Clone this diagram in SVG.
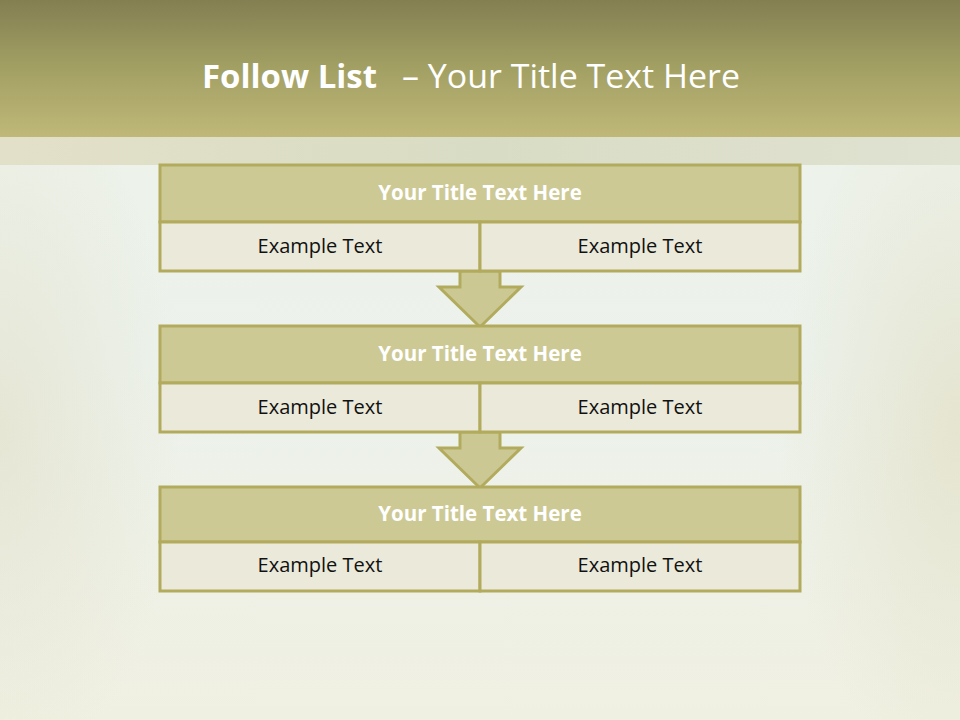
<svg xmlns="http://www.w3.org/2000/svg" width="960" height="720" viewBox="0 0 960 720">
<defs>
<linearGradient id="hdr" x1="0" y1="0" x2="0" y2="1">
<stop offset="0" stop-color="#837f52"/>
<stop offset="0.5" stop-color="#a3a064"/>
<stop offset="1" stop-color="#bfb878"/>
</linearGradient>
<linearGradient id="band" x1="0" y1="0" x2="1" y2="0">
<stop offset="0" stop-color="#e3e0c9"/>
<stop offset="0.5" stop-color="#d9dcc4"/>
<stop offset="1" stop-color="#e0e2d2"/>
</linearGradient>
<linearGradient id="bg" x1="0" y1="0" x2="0" y2="1">
<stop offset="0" stop-color="#eef2e8"/>
<stop offset="0.5" stop-color="#ecf2ec"/>
<stop offset="1" stop-color="#f0f0e2"/>
</linearGradient>
<radialGradient id="edgeL" cx="0" cy="0.5" r="0.6">
<stop offset="0" stop-color="#e4e3cf" stop-opacity="0.8"/>
<stop offset="1" stop-color="#e4e3cf" stop-opacity="0"/>
</radialGradient>
<radialGradient id="edgeR" cx="1" cy="0.5" r="0.6">
<stop offset="0" stop-color="#e3e1c9" stop-opacity="0.8"/>
<stop offset="1" stop-color="#e3e1c9" stop-opacity="0"/>
</radialGradient>
<style>
.ttl{fill:#cdc995;stroke:#b2ab5d;stroke-width:3}
.sub{fill:#ebe9da;stroke:#b2ab5d;stroke-width:3}
.arr{fill:#cbc894;stroke:#b2ab5d;stroke-width:3;stroke-linejoin:miter}
.tt{font-family:"Open Sans","Liberation Sans",sans-serif;font-weight:bold;font-size:20.5px;fill:#ffffff;text-anchor:middle}
.ex{font-family:"Open Sans","Liberation Sans",sans-serif;font-size:20px;fill:#111111;text-anchor:middle}
.hd{font-family:"Open Sans","Liberation Sans",sans-serif;font-size:32px;fill:#ffffff}
</style>
</defs>
<rect x="0" y="0" width="960" height="720" fill="url(#bg)"/>
<rect x="0" y="137" width="300" height="583" fill="url(#edgeL)"/>
<rect x="660" y="137" width="300" height="583" fill="url(#edgeR)"/>
<rect x="0" y="137" width="960" height="28" fill="url(#band)"/>
<rect x="0" y="0" width="960" height="137" fill="url(#hdr)"/>
<text class="hd" x="202" y="88" font-weight="bold" textLength="175" lengthAdjust="spacingAndGlyphs">Follow List</text>
<text class="hd" x="402" y="88" textLength="338" lengthAdjust="spacingAndGlyphs">– Your Title Text Here</text>

<g id="connectors">
<polygon class="arr" points="460,271 500,271 500,287 521,287 480,327 439,287 460,287"/>
<polygon class="arr" points="460,432 500,432 500,448 521,448 480,488 439,448 460,448"/>
</g>

<g id="box1">
<rect class="ttl" x="160" y="165" width="640" height="57"/>
<rect class="sub" x="160" y="222" width="320" height="49"/>
<rect class="sub" x="480" y="222" width="320" height="49"/>
<text class="tt" x="480" y="200">Your Title Text Here</text>
<text class="ex" x="320" y="253">Example Text</text>
<text class="ex" x="640" y="253">Example Text</text>
</g>
<g id="box2">
<rect class="ttl" x="160" y="326" width="640" height="57"/>
<rect class="sub" x="160" y="383" width="320" height="49"/>
<rect class="sub" x="480" y="383" width="320" height="49"/>
<text class="tt" x="480" y="361">Your Title Text Here</text>
<text class="ex" x="320" y="414">Example Text</text>
<text class="ex" x="640" y="414">Example Text</text>
</g>
<g id="box3">
<rect class="ttl" x="160" y="487" width="640" height="55"/>
<rect class="sub" x="160" y="542" width="320" height="49"/>
<rect class="sub" x="480" y="542" width="320" height="49"/>
<text class="tt" x="480" y="521">Your Title Text Here</text>
<text class="ex" x="320" y="572">Example Text</text>
<text class="ex" x="640" y="572">Example Text</text>
</g>
</svg>
